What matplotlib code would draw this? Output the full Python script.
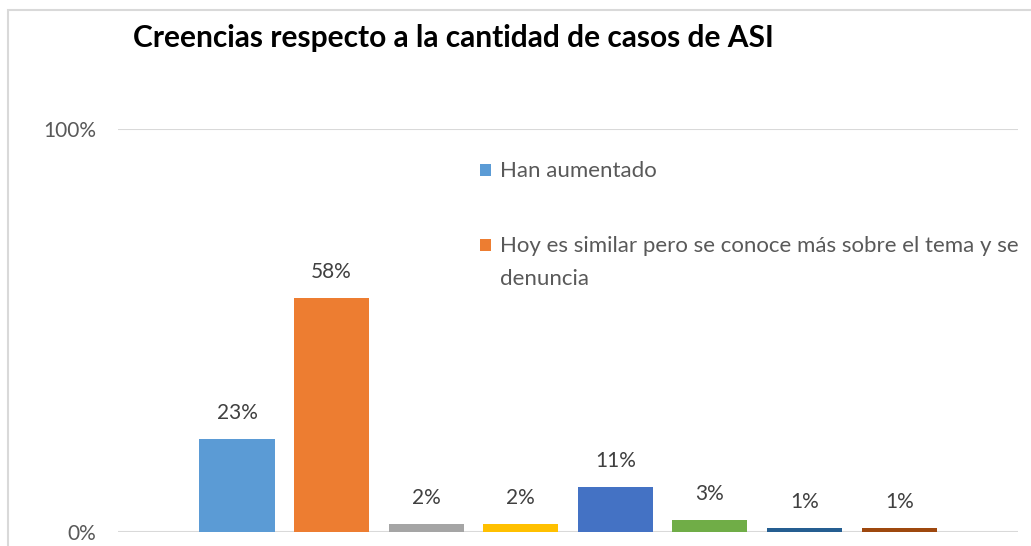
import matplotlib
matplotlib.use("Agg")
import matplotlib.pyplot as plt
from matplotlib.patches import Rectangle

plt.rcParams['font.family'] = ['Lato', 'DejaVu Sans']

# Datos
categorias = [
    "Han aumentado",
    "Hoy es similar pero se conoce más sobre el tema y se\ndenuncia",
    "Serie 3", "Serie 4", "Serie 5", "Serie 6", "Serie 7", "Serie 8",
]
valores = [23, 58, 2, 2, 11, 3, 1, 1]
colores = ["#5B9BD5", "#ED7D31", "#A5A5A5", "#FFC000",
           "#4472C4", "#70AD47", "#255E91", "#9E480E"]
titulo = "Creencias respecto a la cantidad de casos de ASI"

W, H = 1031, 546
fig = plt.figure(figsize=(W / 100, H / 100), dpi=100)

# marco del grafico
fig.patches.append(Rectangle((8 / W, -0.1), 1.2, (H - 10) / H + 0.1,
                             transform=fig.transFigure, fill=False,
                             edgecolor="#D9D9D9", linewidth=1.5))

ax = fig.add_axes([118 / W, 14.3 / H, (1018 - 118) / W, (531.7 - 129) / H])
x = list(range(len(valores)))
bars = ax.bar(x, valores, width=0.793, color=colores, zorder=3)

for xi, v in zip(x, valores):
    ax.text(xi, v + 4, f"{v}%", ha="center", va="bottom",
            fontsize=15, color="#404040")

ax.set_xlim(-1.258, 8.256)
ax.set_ylim(0, 100)
ax.set_yticks([0, 100])
ax.set_yticklabels(["0%", "100%"], fontsize=15, color="#595959")
ax.tick_params(axis="y", length=0, pad=16)
ax.set_xticks([])
ax.grid(axis="y", color="#D9D9D9", linewidth=1.5, zorder=0)
for s in ax.spines.values():
    s.set_visible(False)

fig.text(133 / W, 1 - 38 / H, titulo, fontsize=21.5, fontweight="bold",
         ha="left", va="center", color="black")

# leyenda (solo se ven las dos primeras entradas)
leg_y = [170, 245]
for i, yy in enumerate(leg_y):
    fig.patches.append(Rectangle((480 / W, 1 - (yy + 6) / H), 11 / W, 12 / H,
                                 transform=fig.transFigure,
                                 facecolor=colores[i], edgecolor="none"))
    fig.text(500 / W, 1 - (yy - 9) / H, categorias[i], fontsize=16,
             color="#595959", ha="left", va="top", linespacing=1.8)

fig.savefig("out.png", dpi=100, facecolor="white")
